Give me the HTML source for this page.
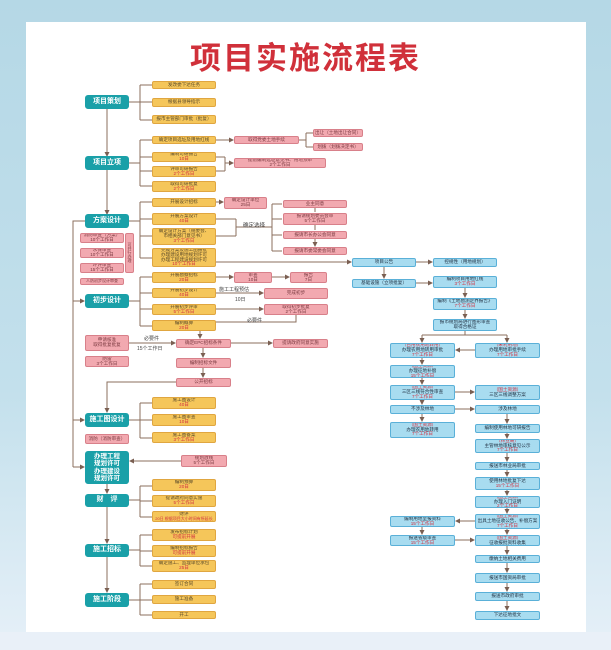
<!DOCTYPE html>
<html><head><meta charset="utf-8"><style>
body{margin:0;width:611px;height:650px;position:relative;overflow:hidden;background:linear-gradient(#b5d8e6 0,#c3e0ec 60%,#e6f0f8 100%);font-family:"Liberation Sans","Noto Sans CJK SC",sans-serif}
.panel{position:absolute;left:26px;top:22px;width:560px;height:610px;background:#fff}
.bot{position:absolute;left:0;top:632px;width:611px;height:18px;background:#e9f0f8}
h1{position:absolute;left:0;top:33px;width:611px;margin:0;text-align:center;font-size:31px;color:#d0303a;font-weight:bold;letter-spacing:2px;font-family:"Liberation Sans","Noto Sans CJK SC",sans-serif}
.b{position:absolute;display:flex;flex-direction:column;align-items:center;justify-content:center;text-align:center;font-size:4.6px;line-height:1.05;box-sizing:border-box;border-radius:2px;color:#444;overflow:hidden}
.t{background:#1aa0a8;color:#fff;font-size:7px;border-radius:3px;font-weight:bold;line-height:1.15}
.y{background:#f5c65a;border:0.7px solid #e0a640;color:#5a4a2a}
.p{background:#f2a9b0;border:0.7px solid #d8808a;color:#7a3a40}
.u{background:#a8dcf0;border:0.7px solid #5ab0d8;color:#234}
.r{color:#d03040}
.l{position:absolute;font-size:5px;color:#444}
svg{position:absolute;left:0;top:0}
</style></head><body>
<div class="panel"></div><div class="bot"></div>
<h1>项目实施流程表</h1>
<svg width="611" height="650"><defs><marker id="a" markerWidth="5" markerHeight="5" refX="4" refY="2.5" orient="auto"><path d="M0,0L5,2.5L0,5z" fill="#7a5f52"/></marker></defs>
<g stroke="#8b6f5e" stroke-width="1" fill="none">
<path d="M107 109V156" marker-end="url(#a)"/><path d="M107 170V214" marker-end="url(#a)"/>
<path d="M129 102H140M140 85V120M140 85H152M140 102H152M140 120H152"/>
<path d="M129 163H140M140 140V186M140 140H152M140 157H152M140 171H152M140 186H152"/>
<path d="M216 140H233" marker-end="url(#a)"/><path d="M299 140H306M306 133V147M306 133H313M306 147H313"/>
<path d="M216 157H225M216 171H225M225 157V171"/><path d="M225 163H233" marker-end="url(#a)"/>
<path d="M129 221H140M140 202V258M140 202H152M140 219H152M140 236H152M140 258H152"/>
<path d="M216 202H223" marker-end="url(#a)"/>
<path d="M216 219H236M216 236H236M236 219V236M236 227H272"/>
<path d="M272 204V251M272 204H282M272 219H282M272 235H282M272 251H282"/>
<path d="M315 208V212M315 225V230M315 239V246" marker-end="url(#a)"/>
<path d="M216 262H351" marker-end="url(#a)"/>
<path d="M85 221H73V467"/><path d="M73 301H84" marker-end="url(#a)"/><path d="M73 420H84" marker-end="url(#a)"/><path d="M73 467H84" marker-end="url(#a)"/>
<path d="M129 301H140M140 277V326M140 277H152M140 293H152M140 309H152M140 326H152"/>
<path d="M216 277H233" marker-end="url(#a)"/><path d="M272 277H289" marker-end="url(#a)"/>
<path d="M216 293H263" marker-end="url(#a)"/><path d="M216 309H263" marker-end="url(#a)"/>
<path d="M296 315V322H200V338" marker-end="url(#a)"/>
<path d="M129 343H175" marker-end="url(#a)"/><path d="M231 343H272" marker-end="url(#a)"/>
<path d="M203 348V357" marker-end="url(#a)"/><path d="M203 368V377" marker-end="url(#a)"/>
<path d="M176 382H107V412" marker-end="url(#a)"/>
<path d="M129 420H140M140 403V438M140 403H152M140 420H152M140 438H152"/>
<path d="M181 461H130" marker-end="url(#a)"/>
<path d="M107 484V493" marker-end="url(#a)"/><path d="M107 507V543" marker-end="url(#a)"/><path d="M107 557V592" marker-end="url(#a)"/>
<path d="M129 500H140M140 486V517M140 486H152M140 501H152M140 517H152"/>
<path d="M129 550H140M140 535V566M140 535H152M140 551H152M140 566H152"/>
<path d="M129 600H140M140 584V615M140 584H152M140 600H152M140 615H152"/>
<path d="M416 262H432" marker-end="url(#a)"/><path d="M384 267V278" marker-end="url(#a)"/><path d="M416 283H432" marker-end="url(#a)"/>
<path d="M465 288V297" marker-end="url(#a)"/><path d="M465 310V318" marker-end="url(#a)"/>
<path d="M465 331V335M422 335H507"/><path d="M422 335V342" marker-end="url(#a)"/><path d="M507 335V342" marker-end="url(#a)"/>
<path d="M475 350H456" marker-end="url(#a)"/>
<path d="M422 358V364" marker-end="url(#a)"/><path d="M422 378V384" marker-end="url(#a)"/><path d="M422 400V404" marker-end="url(#a)"/><path d="M422 414V421" marker-end="url(#a)"/>
<path d="M455 392H474" marker-end="url(#a)"/><path d="M455 409H474" marker-end="url(#a)"/>
<path d="M507 414V423" marker-end="url(#a)"/><path d="M507 433V438" marker-end="url(#a)"/>
<path d="M507 453V461" marker-end="url(#a)"/><path d="M507 470V476" marker-end="url(#a)"/><path d="M507 490V495" marker-end="url(#a)"/><path d="M507 508V513" marker-end="url(#a)"/><path d="M507 529V534" marker-end="url(#a)"/><path d="M507 546V554" marker-end="url(#a)"/><path d="M507 563V572" marker-end="url(#a)"/><path d="M507 583V591" marker-end="url(#a)"/><path d="M507 601V610" marker-end="url(#a)"/>
<path d="M475 521H456" marker-end="url(#a)"/><path d="M422 527V534" marker-end="url(#a)"/><path d="M455 540H474" marker-end="url(#a)"/>
</g></svg>

<div class="b t" style="left:85px;top:95px;width:44px;height:14px">项目策划</div>
<div class="b t" style="left:85px;top:156px;width:44px;height:14px">项目立项</div>
<div class="b t" style="left:85px;top:214px;width:44px;height:14px">方案设计</div>
<div class="b t" style="left:85px;top:294px;width:44px;height:14px">初步设计</div>
<div class="b t" style="left:85px;top:413px;width:44px;height:14px">施工图设计</div>
<div class="b t" style="left:85px;top:451px;width:44px;height:33px;font-size:6.5px">办理工程<br>规划许可<br>办理建设<br>规划许可</div>
<div class="b t" style="left:85px;top:494px;width:44px;height:13px">财　评</div>
<div class="b t" style="left:85px;top:544px;width:44px;height:13px">施工招标</div>
<div class="b t" style="left:85px;top:593px;width:44px;height:14px">施工阶段</div>

<div class="b y" style="left:152px;top:81px;width:64px;height:8px">发改委下达任务</div>
<div class="b y" style="left:152px;top:98px;width:64px;height:9px">根据县领导指示</div>
<div class="b y" style="left:152px;top:115px;width:64px;height:9px">报市主管部门审批（批复）</div>
<div class="b y" style="left:152px;top:136px;width:64px;height:8px">确定项目选址及用地红线</div>
<div class="b y" style="left:152px;top:152px;width:64px;height:10px">编制可研报告<span class="r">10日</span></div>
<div class="b y" style="left:152px;top:166px;width:64px;height:11px">评审可研报告<span class="r">2个工作日</span></div>
<div class="b y" style="left:152px;top:181px;width:64px;height:11px">取得可研批复<span class="r">2个工作日</span></div>
<div class="b y" style="left:152px;top:198px;width:64px;height:9px">开展设计招标</div>
<div class="b y" style="left:152px;top:213px;width:64px;height:12px">开展方案设计<span class="r">40日</span></div>
<div class="b y" style="left:152px;top:228px;width:64px;height:17px">确定设计方案（规委会、<br>市相关部门意见书）<span class="r">3个工作日</span></div>
<div class="b y" style="left:152px;top:248px;width:64px;height:19px">完成方案及施工图报批<br>办理建设用地规划许可<br>办理工程建设规划许可<span class="r">10个工作日</span></div>
<div class="b y" style="left:152px;top:272px;width:64px;height:11px">开展勘察招标<span class="r">20日</span></div>
<div class="b y" style="left:152px;top:288px;width:64px;height:10px">开展初步设计<span class="r">40日</span></div>
<div class="b y" style="left:152px;top:304px;width:64px;height:11px">开展初步评审<span class="r">5个工作日</span></div>
<div class="b y" style="left:152px;top:320px;width:64px;height:11px">编制概算<span class="r">20日</span></div>
<div class="b y" style="left:152px;top:397px;width:64px;height:12px">施工图设计<span class="r">40日</span></div>
<div class="b y" style="left:152px;top:414px;width:64px;height:12px">施工图审查<span class="r">10日</span></div>
<div class="b y" style="left:152px;top:432px;width:64px;height:11px">施工图备案<span class="r">3个工作日</span></div>
<div class="b y" style="left:152px;top:479px;width:64px;height:12px">编制预算<span class="r">20日</span></div>
<div class="b y" style="left:152px;top:495px;width:64px;height:12px">提请政府同意实施<span class="r">5个工作日</span></div>
<div class="b y" style="left:152px;top:511px;width:64px;height:11px">财评<span class="r" style="font-size:4px">20日 根据项目大小时间有所延长</span></div>
<div class="b y" style="left:152px;top:529px;width:64px;height:12px">发布招标计划<span class="r">可提前开展</span></div>
<div class="b y" style="left:152px;top:545px;width:64px;height:12px">编制招标报告<span class="r">可提前开展</span></div>
<div class="b y" style="left:152px;top:560px;width:64px;height:12px">确定施工、监理单位承包<span class="r">25日</span></div>
<div class="b y" style="left:152px;top:580px;width:64px;height:9px">签订合同</div>
<div class="b y" style="left:152px;top:595px;width:64px;height:9px">施工准备</div>
<div class="b y" style="left:152px;top:611px;width:64px;height:8px">开工</div>

<div class="b p" style="left:234px;top:136px;width:65px;height:8px">取得党委土地手续</div>
<div class="b p" style="left:313px;top:129px;width:50px;height:8px">出让（土地出让合同）</div>
<div class="b p" style="left:313px;top:143px;width:50px;height:8px">划拨（划拨决定书）</div>
<div class="b p" style="left:234px;top:158px;width:92px;height:10px">提前编制选址意见书、用地预审<span>2个工作日</span></div>
<div class="b p" style="left:224px;top:197px;width:43px;height:12px">确定设计单位<span>25日</span></div>
<div class="b p" style="left:283px;top:200px;width:64px;height:8px">业主同意</div>
<div class="b p" style="left:283px;top:213px;width:64px;height:12px">报请规划委员会审<span>5个工作日</span></div>
<div class="b p" style="left:283px;top:231px;width:64px;height:8px">报请市长办公会同意</div>
<div class="b p" style="left:283px;top:247px;width:64px;height:8px">报请市委常委会同意</div>
<div class="b p" style="left:80px;top:233px;width:44px;height:10px">消防审查（方案）<span>10个工作日</span></div>
<div class="b p" style="left:80px;top:248px;width:44px;height:10px">水保审查<span>10个工作日</span></div>
<div class="b p" style="left:80px;top:263px;width:44px;height:10px">环评审查<span>15个工作日</span></div>
<div class="b p" style="left:80px;top:278px;width:44px;height:7px;font-size:4px">人防初步设计审查</div>
<div class="b p" style="left:125px;top:233px;width:9px;height:40px;font-size:4px">可并行办理</div>
<div class="b p" style="left:234px;top:272px;width:38px;height:11px">审查<span>10日</span></div>
<div class="b p" style="left:290px;top:272px;width:37px;height:11px">报告<span>7日</span></div>
<div class="b p" style="left:264px;top:288px;width:64px;height:11px">完成初步</div>
<div class="b p" style="left:264px;top:304px;width:64px;height:11px">取得初步批复<span>2个工作日</span></div>
<div class="b p" style="left:85px;top:335px;width:44px;height:16px">申请核准<br>取得批复批复</div>
<div class="b p" style="left:85px;top:356px;width:44px;height:11px">防雷<span>3个工作日</span></div>
<div class="b p" style="left:176px;top:339px;width:55px;height:9px">确定EPC招标条件</div>
<div class="b p" style="left:273px;top:339px;width:55px;height:9px">提请政府同意实施</div>
<div class="b p" style="left:176px;top:358px;width:55px;height:10px">编制招标文件</div>
<div class="b p" style="left:176px;top:378px;width:55px;height:9px">公开招标</div>
<div class="b p" style="left:85px;top:434px;width:44px;height:10px">消防（消防审查）</div>
<div class="b p" style="left:181px;top:455px;width:46px;height:12px">规划放线<span>5个工作日</span></div>
<div class="l" style="left:219px;top:286px">施工工程预估</div><div class="l" style="left:235px;top:296px">10日</div>
<div class="l" style="left:247px;top:317px">必要件</div>
<div class="l" style="left:144px;top:335px">必要件</div><div class="l" style="left:137px;top:345px">15个工作日</div>
<div class="l" style="left:243px;top:221px;font-size:5.5px">确定选择</div>

<div class="b u" style="left:352px;top:258px;width:64px;height:9px">项目公告</div>
<div class="b u" style="left:433px;top:258px;width:64px;height:9px">控规性（用地规划）</div>
<div class="b u" style="left:352px;top:279px;width:64px;height:9px">基础设施（立项批复）</div>
<div class="b u" style="left:433px;top:276px;width:64px;height:12px">编制项目用地红线<span class="r">3个工作日</span></div>
<div class="b u" style="left:433px;top:298px;width:64px;height:12px">编制《土地勘测定界报告》<span class="r">7个工作日</span></div>
<div class="b u" style="left:433px;top:319px;width:64px;height:12px">报市规划局进行图形审查<br>取得合格证</div>
<div class="b u" style="left:390px;top:343px;width:65px;height:15px"><span class="r">（占用农用地转用）</span>办理农用地转用审批<span class="r">7个工作日</span></div>
<div class="b u" style="left:475px;top:343px;width:65px;height:15px"><span class="r">（未利用地）</span>办理用地审批手续<span class="r">7个工作日</span></div>
<div class="b u" style="left:390px;top:365px;width:65px;height:13px"><span class="r">（国土资源）</span>办理征地补偿<span class="r">15个工作日</span></div>
<div class="b u" style="left:390px;top:385px;width:65px;height:15px"><span class="r">（国土资源）</span>三区三线符合性审查<span class="r">7个工作日</span></div>
<div class="b u" style="left:475px;top:385px;width:65px;height:15px"><span class="r">（国土资源）</span>三区三线调整方案</div>
<div class="b u" style="left:390px;top:405px;width:65px;height:9px">不涉及林地</div>
<div class="b u" style="left:475px;top:405px;width:65px;height:9px">涉及林地</div>
<div class="b u" style="left:390px;top:422px;width:65px;height:16px"><span class="r">（国土资源）</span>办理农用地转用<span class="r">7个工作日</span></div>
<div class="b u" style="left:475px;top:424px;width:65px;height:9px">编制使用林地可研报告</div>
<div class="b u" style="left:475px;top:439px;width:65px;height:14px"><span class="r">（林业局）</span>主管林地审核意见公示<span class="r">7个工作日</span></div>
<div class="b u" style="left:475px;top:462px;width:65px;height:8px">报送市林业局审批</div>
<div class="b u" style="left:475px;top:477px;width:65px;height:13px">使用林地批复下达<span class="r">15个工作日</span></div>
<div class="b u" style="left:475px;top:496px;width:65px;height:12px"><span class="r">（国土资源）</span>办理入门证明<span class="r">2个工作日</span></div>
<div class="b u" style="left:475px;top:514px;width:65px;height:15px"><span class="r">（国土资源）</span>出具土地征收公告、补偿方案<span class="r">7个工作日</span></div>
<div class="b u" style="left:390px;top:516px;width:65px;height:11px">编制用地呈报资料<span class="r">15个工作日</span></div>
<div class="b u" style="left:390px;top:535px;width:65px;height:11px">报送省级审查<span class="r">15个工作日</span></div>
<div class="b u" style="left:475px;top:535px;width:65px;height:11px"><span class="r">（国土资源）</span>征收报批资料收集</div>
<div class="b u" style="left:475px;top:555px;width:65px;height:8px">缴纳土地相关费用</div>
<div class="b u" style="left:475px;top:573px;width:65px;height:10px">报送市国资局审批</div>
<div class="b u" style="left:475px;top:592px;width:65px;height:9px">报送市政府审批</div>
<div class="b u" style="left:475px;top:611px;width:65px;height:9px">下达征地批文</div>
</body></html>
